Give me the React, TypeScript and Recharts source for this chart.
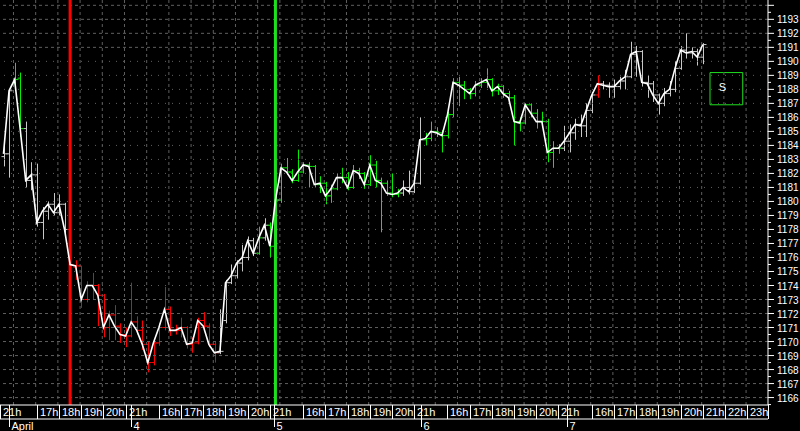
import React from 'react'
import { ComposedChart, Bar, Line, XAxis, YAxis, ReferenceLine, ReferenceArea } from 'recharts'

// 15 minute bars, April 3rd 21h -> April 7th ~21h
const open = [
  1183.2, 1183.4, 1188.4, 1188.8, 1185.2, 1181.5, 1181.9, 1178.5, 1179.3, 1179.8,
  1179.2, 1179.8, 1178.0, 1175.3, 1175.4, 1173.0, 1174.0, 1174.0, 1173.3, 1171.0,
  1171.9, 1171.1, 1170.5, 1170.4, 1171.4, 1170.8, 1169.8, 1168.5, 1169.9, 1171.0,
  1172.3, 1170.8, 1170.8, 1171.0, 1169.8, 1169.9, 1171.5, 1171.1, 1169.8, 1169.2,
  1171.5, 1174.2, 1174.7, 1175.6, 1176.0, 1177.2, 1176.3, 1177.4, 1178.3, 1176.8,
  1180.1, 1182.4, 1182.1, 1181.5, 1182.1, 1182.6, 1182.5, 1181.2, 1181.3, 1180.4,
  1180.9, 1181.7, 1181.7, 1181.0, 1182.2, 1182.0, 1181.2, 1182.6, 1181.5, 1181.3,
  1180.6, 1180.5, 1180.6, 1181.0, 1180.7, 1181.3, 1184.4, 1184.5, 1185.0, 1184.9,
  1184.7, 1186.2, 1188.5, 1188.3, 1188.0, 1187.7, 1188.3, 1188.5, 1188.7, 1187.9,
  1188.2, 1187.7, 1187.4, 1185.7, 1185.6, 1186.9, 1186.3, 1185.7, 1185.7, 1183.5,
  1183.8, 1183.8, 1184.3, 1184.9, 1185.5, 1185.4, 1186.5, 1187.6, 1188.4, 1188.3,
  1188.2, 1188.2, 1188.6, 1188.9, 1190.5, 1190.7, 1188.5, 1188.4, 1187.6, 1187.0,
  1187.7, 1188.0, 1189.5, 1190.8, 1190.6, 1190.7, 1190.3,
]
const high = [
  1184.5, 1188.0, 1189.9, 1189.2, 1185.7, 1182.8, 1182.7, 1179.6, 1180.0, 1180.6,
  1180.5, 1179.9, 1178.0, 1175.8, 1175.4, 1174.3, 1174.9, 1174.1, 1173.4, 1172.2,
  1172.6, 1171.3, 1171.0, 1174.2, 1171.8, 1171.5, 1170.0, 1170.2, 1171.3, 1173.9,
  1172.5, 1171.2, 1171.7, 1171.1, 1170.3, 1171.7, 1172.1, 1171.3, 1170.0, 1172.3,
  1174.4, 1175.5, 1175.8, 1176.9, 1177.5, 1177.4, 1178.2, 1178.8, 1178.5, 1180.3,
  1182.7, 1183.1, 1182.3, 1183.7, 1182.8, 1182.8, 1182.6, 1181.8, 1181.4, 1181.2,
  1182.0, 1182.4, 1182.1, 1182.6, 1182.4, 1182.1, 1183.3, 1182.9, 1181.7, 1181.5,
  1182.0, 1180.9, 1181.5, 1182.2, 1181.8, 1186.0, 1184.9, 1185.7, 1185.3, 1185.1,
  1186.4, 1188.8, 1188.9, 1188.6, 1188.1, 1188.6, 1188.8, 1189.5, 1188.8, 1188.4,
  1188.3, 1187.9, 1187.6, 1186.0, 1187.0, 1187.0, 1186.6, 1186.4, 1185.9, 1184.3,
  1184.1, 1185.4, 1185.5, 1185.9, 1186.2, 1187.0, 1187.8, 1189.0, 1188.6, 1188.5,
  1188.7, 1188.9, 1189.4, 1191.4, 1191.1, 1190.8, 1189.0, 1188.6, 1187.7, 1188.1,
  1188.6, 1190.0, 1191.1, 1192.0, 1191.0, 1190.9, 1191.3,
]
const low = [
  1182.5, 1181.7, 1188.3, 1184.6, 1181.0, 1180.8, 1178.2, 1177.3, 1178.7, 1179.0,
  1179.0, 1177.5, 1175.1, 1174.4, 1172.4, 1172.8, 1173.0, 1171.1, 1170.3, 1170.1,
  1170.1, 1169.9, 1169.6, 1170.3, 1170.5, 1169.4, 1167.8, 1168.3, 1169.7, 1170.8,
  1170.4, 1170.5, 1170.3, 1169.5, 1169.2, 1169.8, 1170.8, 1169.6, 1168.5, 1169.1,
  1171.3, 1174.1, 1174.5, 1175.0, 1175.8, 1176.1, 1176.2, 1177.2, 1176.0, 1176.6,
  1179.9, 1181.9, 1181.3, 1181.4, 1182.0, 1181.0, 1181.0, 1180.6, 1179.8, 1179.9,
  1180.8, 1181.3, 1180.8, 1180.9, 1181.6, 1180.9, 1181.1, 1181.0, 1177.8, 1180.4,
  1180.3, 1180.3, 1180.4, 1180.5, 1180.6, 1181.2, 1184.0, 1184.3, 1184.6, 1183.5,
  1184.5, 1186.0, 1186.8, 1187.3, 1187.3, 1187.5, 1188.1, 1188.1, 1187.5, 1187.6,
  1187.4, 1187.2, 1184.0, 1185.0, 1185.5, 1186.0, 1185.2, 1185.3, 1182.8, 1182.4,
  1183.4, 1183.6, 1183.5, 1184.4, 1184.6, 1184.6, 1186.3, 1187.4, 1188.0, 1187.4,
  1187.4, 1188.0, 1188.0, 1188.8, 1188.9, 1188.2, 1187.4, 1187.1, 1186.2, 1186.8,
  1187.5, 1187.8, 1189.4, 1190.2, 1190.2, 1189.7, 1189.8,
]
const close = [
  1183.4, 1187.9, 1188.7, 1185.2, 1181.5, 1181.9, 1178.5, 1179.3, 1179.8, 1179.2,
  1179.8, 1178.0, 1175.5, 1175.4, 1173.0, 1174.0, 1174.0, 1173.3, 1171.0, 1171.9,
  1171.1, 1170.5, 1170.4, 1171.4, 1170.8, 1169.8, 1168.5, 1169.9, 1171.0, 1172.3,
  1170.8, 1170.8, 1171.0, 1169.8, 1169.9, 1171.5, 1171.1, 1169.8, 1169.2, 1169.3,
  1174.2, 1174.7, 1175.6, 1176.0, 1177.2, 1176.3, 1177.4, 1178.3, 1176.8, 1180.1,
  1182.4, 1182.1, 1181.5, 1182.1, 1182.6, 1182.5, 1181.2, 1181.3, 1180.4, 1180.9,
  1181.7, 1181.7, 1181.0, 1182.2, 1182.0, 1181.2, 1182.6, 1181.5, 1181.3, 1180.6,
  1180.5, 1180.6, 1181.0, 1180.7, 1181.3, 1184.4, 1184.5, 1185.0, 1184.9, 1184.7,
  1186.2, 1188.5, 1188.3, 1188.0, 1187.7, 1188.3, 1188.5, 1188.7, 1187.9, 1188.2,
  1187.7, 1187.4, 1185.7, 1185.6, 1186.9, 1186.3, 1185.7, 1185.7, 1183.5, 1183.8,
  1183.8, 1184.3, 1184.9, 1185.5, 1185.4, 1186.5, 1187.6, 1188.4, 1188.3, 1188.2,
  1188.2, 1188.6, 1188.9, 1190.5, 1190.7, 1188.5, 1188.4, 1187.6, 1187.0, 1187.7,
  1188.0, 1189.5, 1190.8, 1190.6, 1190.7, 1190.3, 1191.2,
]
// bar state: n = neutral, g = long, r = short (run lengths)
const signalRuns: [string, number][] = [
  ['n', 2], ['g', 2], ['n', 8], ['r', 27], ['n', 7], ['g', 1], ['n', 1], ['g', 1], ['n', 1],
  ['g', 22], ['n', 4], ['g', 25], ['n', 6], ['r', 1], ['n', 19],
]

const hourTicks = [-0.63, 6, 10, 14, 18, 22, 28, 32, 36, 40, 44, 48, 54, 58, 62, 66, 70, 74, 80, 84, 88, 92, 96, 100, 106, 110, 114, 118, 122, 126, 130, 134, 137.75]
const hourLabels = ['21h', '17h', '18h', '19h', '20h', '21h', '16h', '17h', '18h', '19h', '20h', '21h', '16h', '17h', '18h', '19h', '20h', '21h', '16h', '17h', '18h', '19h', '20h', '21h', '16h', '17h', '18h', '19h', '20h', '21h', '22h', '23h', '']
const dayTicks = [1, 23, 48.8, 75.2, 101.5]
const dayLabels = ['April', '4', '5', '6', '7']
const priceTicks = [1166, 1167, 1168, 1169, 1170, 1171, 1172, 1173, 1174, 1175, 1176, 1177, 1178, 1179, 1180, 1181, 1182, 1183, 1184, 1185, 1186, 1187, 1188, 1189, 1190, 1191, 1192, 1193, 1194]
const exitBar = 12
const entryBar = 49
const stickyNote = { x1: 127.3, x2: 133.2, y1: 1186.9, y2: 1189.2, text: 'S' }

const X_DOMAIN: [number, number] = [-0.63, 137.75]
const Y_DOMAIN: [number, number] = [1165.47, 1194.38]
const FONT = "'Liberation Sans', Arial, sans-serif"
const BAR_COLORS: Record<string, string> = { n: '#c8c8c8', g: '#00f000', r: '#ff0000' }

const signal: string[] = []
signalRuns.forEach(([s, n]) => { for (let k = 0; k < n; k++) signal.push(s) })

const data = close.map((c, i) => ({
  i,
  open: open[i],
  high: high[i],
  low: low[i],
  close: c,
  range: [low[i], high[i]],
  sig: signal[i],
}))

// vertical grid, one line every 4 bars
const gridX: number[] = []
for (let v = 1.8; v < X_DOMAIN[1]; v += 4) gridX.push(v)

function OhlcBar(props: any) {
  const { x, y, width, height, payload } = props
  if (x == null || y == null) return null
  const cx = Math.round(x + width / 2) + 0.5
  const span = payload.high - payload.low || 1
  const yo = y + ((payload.high - payload.open) / span) * height
  const yc = y + ((payload.high - payload.close) / span) * height
  return (
    <g stroke={BAR_COLORS[payload.sig]} strokeWidth={1}>
      <line x1={cx} x2={cx} y1={y} y2={y + height} />
      <line x1={cx - 3} x2={cx} y1={yo} y2={yo} />
      <line x1={cx} x2={cx + 3} y1={yc} y2={yc} />
    </g>
  )
}

function HourTick({ x, y, payload }: any) {
  const label = hourLabels[hourTicks.indexOf(payload.value)]
  const lx = Math.round(x) + 0.5
  return (
    <g>
      <line x1={lx} x2={lx} y1={y} y2={y + 14} stroke="#fff" />
      <text x={lx + 2.5} y={y + 11} fill="#fff" fontSize={11} fontFamily={FONT}>{label}</text>
    </g>
  )
}

function DayTick({ x, y, payload }: any) {
  const label = dayLabels[dayTicks.indexOf(payload.value)]
  const lx = Math.round(x) + 0.5
  return (
    <g>
      <line x1={lx} x2={lx} y1={y - 14} y2={y + 8} stroke="#fff" />
      <text x={lx + 2} y={y + 10.5} fill="#fff" fontSize={11} fontFamily={FONT}>{label}</text>
    </g>
  )
}

function PriceTick({ x, y, payload }: any) {
  const v = payload.value
  return (
    <g stroke="#fff">
      <line x1={x} x2={x + 6} y1={y} y2={y} />
      <line x1={x} x2={x + 3} y1={y + 7} y2={y + 7} />
      {v < 1194 && (
        <text x={x + 9} y={y + 4} fill="#fff" stroke="none" fontSize={10} fontFamily={"'Liberation Sans Narrow', " + FONT}>{v}</text>
      )}
    </g>
  )
}

export default function App() {
  return (
    <div style={{ position: 'absolute', left: 0, top: 0, width: 800, height: 431, background: '#000' }}>
      <ComposedChart width={800} height={431} data={data} margin={{ top: 0, right: 0, bottom: 0, left: 0 }}>
        <XAxis
          dataKey="i"
          type="number"
          domain={X_DOMAIN}
          allowDataOverflow
          ticks={hourTicks}
          interval={0}
          height={14}
          tickSize={0}
          tickMargin={0}
          tickLine={false}
          axisLine={{ stroke: '#fff' }}
          tick={<HourTick />}
        />
        <XAxis
          xAxisId="day"
          dataKey="i"
          type="number"
          domain={X_DOMAIN}
          allowDataOverflow
          ticks={dayTicks}
          interval={0}
          height={12}
          tickSize={0}
          tickMargin={0}
          tickLine={false}
          axisLine={{ stroke: '#fff' }}
          tick={<DayTick />}
        />
        <YAxis
          orientation="right"
          type="number"
          domain={Y_DOMAIN}
          allowDataOverflow
          ticks={priceTicks}
          interval={0}
          width={32}
          tickSize={0}
          tickMargin={0}
          tickLine={false}
          axisLine={{ stroke: '#fff' }}
          tick={<PriceTick />}
        />

        {priceTicks.map((p) => (
          <ReferenceLine
            key={'h' + p}
            y={p}
            stroke="#5f5f5f"
            strokeDasharray={p >= 1174 && p <= 1190 ? '1 6' : '3 3'}
          />
        ))}
        {gridX.map((v) => (
          <ReferenceLine key={'v' + v} x={v} stroke="#5f5f5f" strokeDasharray="3 3" />
        ))}

        <ReferenceLine x={exitBar} stroke="#ff0000" strokeWidth={3} />
        <ReferenceLine x={entryBar} stroke="#1fe01f" strokeWidth={3} />

        <Bar dataKey="range" barSize={4} shape={<OhlcBar />} activeBar={false} isAnimationActive={false} />
        <Line dataKey="close" type="linear" stroke="#fff" strokeWidth={1.6} dot={false} activeDot={false} isAnimationActive={false} />

        <ReferenceArea
          x1={stickyNote.x1}
          x2={stickyNote.x2}
          y1={stickyNote.y1}
          y2={stickyNote.y2}
          fill="none"
          stroke="#1fe01f"
          strokeOpacity={1}
          label={{ value: stickyNote.text, position: 'center', fill: '#fff', fontSize: 11, fontFamily: FONT, dx: -4, dy: -2 }}
        />
      </ComposedChart>
    </div>
  )
}
